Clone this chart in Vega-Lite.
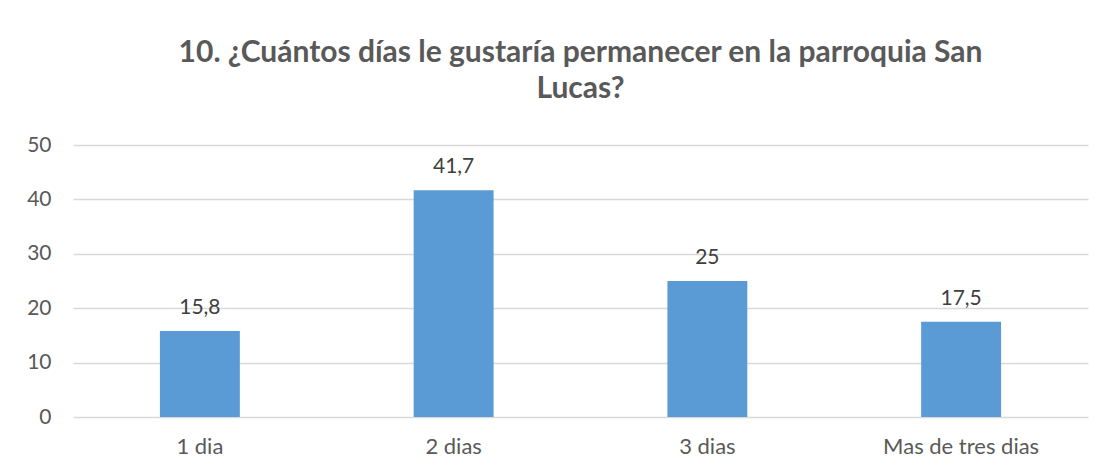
{
  "$schema": "https://vega.github.io/schema/vega-lite/v6.json",
  "autosize": "none",
  "width": 1015,
  "height": 272,
  "padding": {"left": 73, "top": 145, "right": 16, "bottom": 51},
  "background": "white",
  "title": {
    "text": ["10. ¿Cuántos días le gustaría permanecer en la parroquia San", "Lucas?"],
    "font": "Lato",
    "fontSize": 30,
    "fontWeight": "bold",
    "color": "#595959",
    "anchor": "middle",
    "baseline": "alphabetic",
    "lineHeight": 36,
    "offset": 6
  },
  "data": {
    "values": [
      {"categoria": "1 dia", "valor": 15.8, "etiqueta": "15,8"},
      {"categoria": "2 dias", "valor": 41.7, "etiqueta": "41,7"},
      {"categoria": "3 dias", "valor": 25, "etiqueta": "25"},
      {"categoria": "Mas de tres dias", "valor": 17.5, "etiqueta": "17,5"}
    ]
  },
  "encoding": {
    "x": {
      "field": "categoria",
      "type": "nominal",
      "sort": null,
      "scale": {"paddingInner": 0.685, "paddingOuter": 0.3425},
      "axis": {
        "title": null,
        "labelAngle": 0,
        "labelFont": "Lato",
        "labelFontSize": 22,
        "labelColor": "#595959",
        "labelPadding": 19,
        "ticks": false,
        "domain": false,
        "grid": false
      }
    },
    "y": {
      "field": "valor",
      "type": "quantitative",
      "scale": {"domain": [0, 50], "nice": false},
      "axis": {
        "title": null,
        "values": [0, 10, 20, 30, 40, 50],
        "labelFont": "Lato",
        "labelFontSize": 21,
        "labelColor": "#595959",
        "labelPadding": 22,
        "ticks": false,
        "domain": false,
        "grid": true,
        "gridColor": "#D9D9D9",
        "gridWidth": 1.3
      }
    }
  },
  "layer": [
    {"mark": {"type": "bar", "color": "#5B9BD5"}},
    {
      "mark": {"type": "text", "baseline": "alphabetic", "dy": -17, "font": "Lato", "fontSize": 21, "color": "#404040"},
      "encoding": {"text": {"field": "etiqueta"}}
    }
  ],
  "config": {"view": {"stroke": null}}
}
